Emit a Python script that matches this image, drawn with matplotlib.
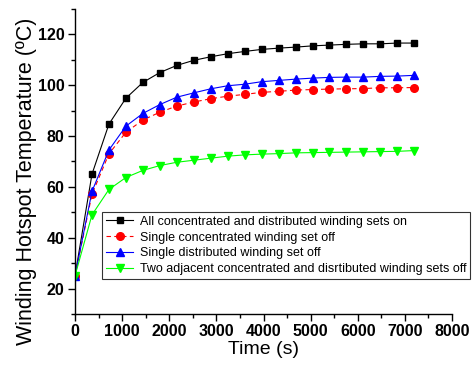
import matplotlib
matplotlib.use("Agg")
import matplotlib.pyplot as plt
from matplotlib.ticker import MultipleLocator

plt.rcParams['font.family'] = ['Liberation Sans', 'DejaVu Sans']

time_s = [0, 360, 720, 1080, 1440, 1800, 2160, 2520, 2880, 3240, 3600,
          3960, 4320, 4680, 5040, 5400, 5760, 6120, 6480, 6840, 7200]
all_on = [25, 65, 84.7, 94.9, 101.1, 105, 107.8, 109.8, 111.2, 112.4, 113.3,
          114.1, 114.6, 115, 115.5, 115.8, 116.1, 116.3, 116.3, 116.6, 116.6]
single_conc_off = [25, 57.1, 73, 81.5, 86.3, 89.4, 91.8, 93.4, 94.7, 95.7, 96.4,
                   97.2, 97.6, 98.1, 98.3, 98.5, 98.6, 98.7, 99, 99, 99.1]
single_dist_off = [25, 58.2, 74.5, 83.9, 88.9, 92.4, 95.3, 97, 98.6, 99.8, 100.4,
                   101.4, 101.9, 102.4, 102.8, 103.1, 103.2, 103.2, 103.5, 103.6, 103.9]
two_adj_off = [25, 49, 59, 63.7, 66.5, 68.4, 69.7, 70.5, 71.3, 72.1, 72.6,
               72.9, 73.1, 73.4, 73.5, 73.6, 73.7, 73.8, 73.9, 74, 74.3]

labels = ["All concentrated and distributed winding sets on",
          "Single concentrated winding set off",
          "Single distributed winding set off",
          "Two adjacent concentrated and disrtibuted winding sets off"]

fig = plt.figure(figsize=(4.76, 3.66), dpi=100)
ax = fig.add_axes([75/476, 1-314/366, (452-75)/476, (314-9)/366])

ax.plot(time_s, all_on, color='black', lw=0.8, marker='s', ms=5, label=labels[0])
ax.plot(time_s, single_conc_off, color='#ff0000', lw=0.8, ls=(0, (4, 3)), marker='o', ms=5.5,
        label=labels[1])
ax.plot(time_s, single_dist_off, color='#0000ff', lw=0.8, marker='^', ms=6, label=labels[2])
ax.plot(time_s, two_adj_off, color='#00ff00', lw=0.8, marker='v', ms=6, label=labels[3])

ax.set_xlim(0, 8000)
ax.set_ylim(10, 130)
ax.xaxis.set_major_locator(MultipleLocator(1000))
ax.xaxis.set_minor_locator(MultipleLocator(500))
ax.yaxis.set_minor_locator(MultipleLocator(10))
ax.set_yticks([20, 40, 60, 80, 100, 120])
ax.spines['top'].set_visible(False)
ax.spines['right'].set_visible(False)
for s in ('left', 'bottom'):
    ax.spines[s].set_linewidth(1.0)
ax.tick_params(which='major', direction='out', length=5, width=1, labelsize=11.5, pad=2.5)
ax.tick_params(which='minor', direction='out', length=3, width=1)
for lab in ax.get_xticklabels() + ax.get_yticklabels():
    lab.set_fontweight('bold')

ax.set_xlabel("Time (s)", fontsize=14, labelpad=1)
ax.set_ylabel("Winding Hotspot Temperature (ºC)", fontsize=15.5)
ax.yaxis.set_label_coords(-(75 - 37) / 377, (314 - 181) / 305)

leg = ax.legend(loc='upper left', bbox_to_anchor=(102/476, 1-212/366),
                bbox_transform=fig.transFigure, fontsize=9, frameon=True,
                fancybox=False, edgecolor='black', handlelength=2.2,
                borderpad=0.3, labelspacing=0.3, handletextpad=0.5,
                borderaxespad=0)
leg.get_frame().set_linewidth(0.8)

fig.savefig("out.png", dpi=100)
